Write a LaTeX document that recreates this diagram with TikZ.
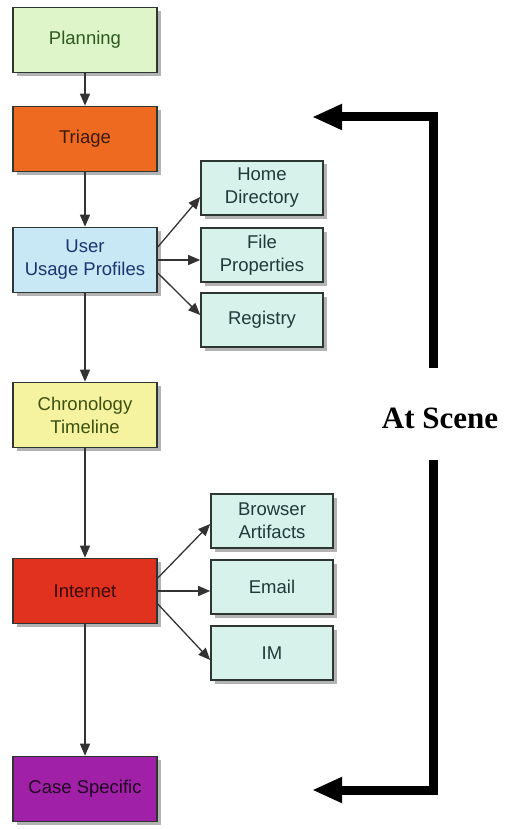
\documentclass[tikz,border=0pt]{standalone}
\usepackage{fontspec}
\setmainfont{Liberation Sans}
\newfontfamily\scenefont{Liberation Serif}
\usetikzlibrary{positioning,calc,arrows.meta,shadows}

\definecolor{planfill}{HTML}{DDF5C8}
\definecolor{plantext}{HTML}{2D5A1E}
\definecolor{triagefill}{HTML}{EE6A20}
\definecolor{triagetext}{HTML}{3A1A08}
\definecolor{userfill}{HTML}{C8E8F5}
\definecolor{usertext}{HTML}{1A3570}
\definecolor{chronofill}{HTML}{F5F2A0}
\definecolor{chronotext}{HTML}{3D5010}
\definecolor{netfill}{HTML}{E0321F}
\definecolor{nettext}{HTML}{3A0808}
\definecolor{casefill}{HTML}{A020A8}
\definecolor{casetext}{HTML}{200020}
\definecolor{subfill}{HTML}{D6F2EA}
\definecolor{subtext}{HTML}{1E3A3A}
\definecolor{edge}{HTML}{2E3632}

\begin{document}
\begin{tikzpicture}[x=1pt, y=-1pt]
	\useasboundingbox (0,0) rectangle (509,829);
	\begin{scope}
		\tikzstyle{every node}=[align=center, inner sep=1pt, font=\fontsize{18.5}{23}\selectfont]
		\tikzstyle{stage}=[draw=edge, line width=1.6pt, minimum width=144pt, minimum height=65pt,
			drop shadow={shadow xshift=3.5pt, shadow yshift=-3.5pt, opacity=0.6}]
		\tikzstyle{item}=[stage, fill=subfill, text=subtext, minimum width=122pt, minimum height=54pt]
		\tikzstyle{link}=[-{Triangle[length=12pt, width=10pt]}, line width=1.3pt, draw=black!80]
		\tikzstyle{loop}=[-{Triangle[length=30pt, width=24pt]}, line width=9pt, line join=miter]

		% main stages down the left
		\node[stage, fill=planfill, text=plantext] (plan) at (85, 40) {Planning};
		\node[stage, fill=triagefill, text=triagetext] (triage) at (85, 139) {Triage};
		\node[stage, fill=userfill, text=usertext] (user) at (85, 260) {User\\Usage Profiles};
		\node[stage, fill=chronofill, text=chronotext] (chrono) at (85, 415) {Chronology\\Timeline};
		\node[stage, fill=netfill, text=nettext] (internet) at (85, 591) {Internet};
		\node[stage, fill=casefill, text=casetext] (case) at (85, 789) {Case Specific};

		% sources for the profiles
		\node[item] (home) at (262, 188) {Home\\Directory};
		\node[item] (fileprop) at (262, 255) {File\\Properties};
		\node[item] (registry) at (262, 320) {Registry};

		% sources for the internet step
		\node[item] (browser) at (272, 521) {Browser\\Artifacts};
		\node[item] (email) at (272, 587) {Email};
		\node[item] (im) at (272, 653) {IM};

		\draw[link](plan) -- (triage);
		\draw[link](triage) -- (user);
		\draw[link](user) -- (chrono);
		\draw[link](chrono) -- (internet);
		\draw[link](internet) -- (case);

		\draw[link]([yshift=13pt]user.east) -- ([yshift=-9pt]home.west);
		\draw[link](user.east) -- (user.east -| fileprop.west);
		\draw[link]([yshift=-13pt]user.east) -- ([yshift=5pt]registry.west);

		\draw[link]([yshift=13pt]internet.east) -- ([yshift=-3pt]browser.west);
		\draw[link](internet.east) -- (internet.east -| email.west);
		\draw[link]([yshift=-13pt]internet.east) -- ([yshift=-7pt]im.west);

		% the at scene loop on the right
		\node[font=\scenefont\bfseries\fontsize{31}{34}\selectfont] (scene) at (440, 418) {At Scene};
		\coordinate (upStart) at (433, 368);
		\coordinate (upTip) at (312, 117);
		\coordinate (downStart) at (433, 460);
		\coordinate (downTip) at (312, 790);
		\draw[loop](upStart) |- (upTip);
		\draw[loop](downStart) |- (downTip);
	\end{scope}
\end{tikzpicture}
\end{document}
